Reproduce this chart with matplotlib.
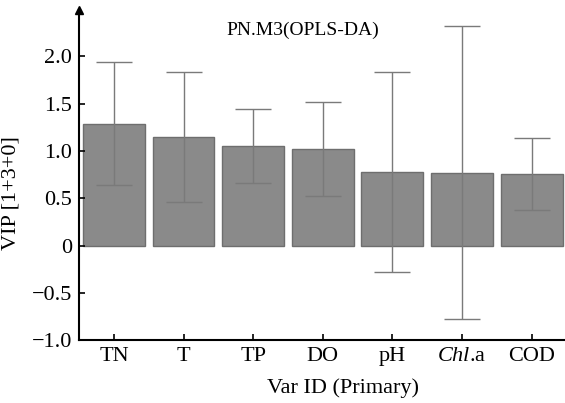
import matplotlib.pyplot as plt
import numpy as np

plt.rcParams['font.family'] = ['Liberation Serif', 'DejaVu Serif']
plt.rcParams['mathtext.fontset'] = 'custom'
plt.rcParams['mathtext.it'] = 'Liberation Serif:italic'
plt.rcParams['mathtext.rm'] = 'Liberation Serif'
plt.rcParams['axes.unicode_minus'] = True

names = ["TN", "T", "TP", "DO", "pH", r"$\mathit{Chl}$.a", "COD"]
vip = [1.29, 1.15, 1.05, 1.02, 0.78, 0.77, 0.76]
err = [0.65, 0.69, 0.39, 0.50, 1.06, 1.55, 0.38]
yticks = [-1.0, -0.5, 0, 0.5, 1.0, 1.5, 2.0]
ylabels = ["\u22121.0", "\u22120.5", "0", "0.5", "1.0", "1.5", "2.0"]

fig = plt.figure(figsize=(5.65, 4.03), dpi=100)
ax = fig.add_axes([0.14, 0.156, 0.86, 0.819])

x = np.arange(len(vip))
ax.bar(x, vip, width=0.89, color="#8a8a8a", edgecolor="#6e6e6e", linewidth=1)
ax.errorbar(x, vip, yerr=err, fmt="none", ecolor="#7a7a7a", elinewidth=1,
            capsize=13, capthick=1)

ax.set_xlim(-0.5, 6.48)
ax.set_ylim(-1.0, 2.49)
ax.set_xticks(x)
ax.set_xticklabels(names, fontsize=16)
ax.set_yticks(yticks)
ax.set_yticklabels(ylabels, fontsize=16)
ax.tick_params(direction="in", length=4, width=1.2, pad=5)

for s in ["top", "right"]:
    ax.spines[s].set_visible(False)
for s in ["left", "bottom"]:
    ax.spines[s].set_linewidth(1.5)

# arrow on the y axis
ax.plot(0, 1, marker="^", color="black", markersize=6, transform=ax.transAxes, clip_on=False)

ax.text(0.46, 0.94, "PN.M3(OPLS-DA)", transform=ax.transAxes, ha="center", va="center", fontsize=14)
ax.set_xlabel("Var ID (Primary)", fontsize=16, labelpad=6)
ax.xaxis.set_label_coords(0.543, -0.115)
ax.set_ylabel("VIP [1+3+0]", fontsize=16)
ax.yaxis.set_label_coords(-0.12, 0.445)

plt.savefig("out.png", dpi=100)
